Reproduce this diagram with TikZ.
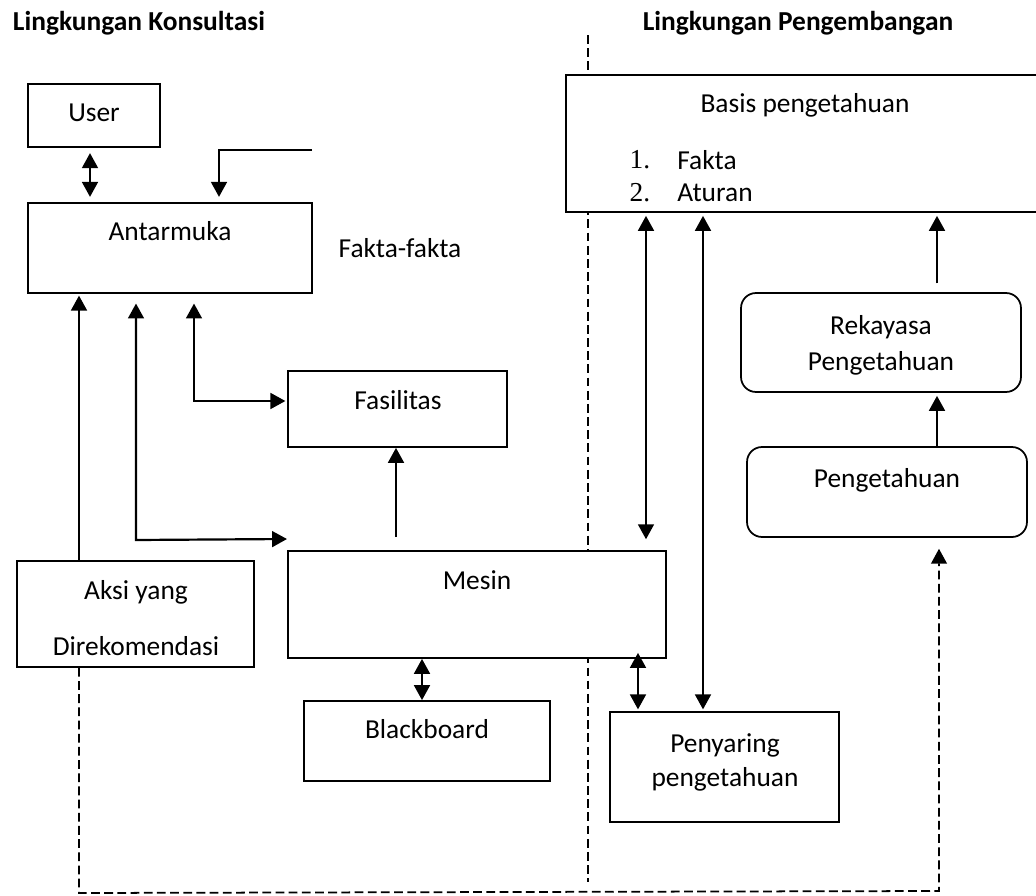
\documentclass[tikz,border=0pt]{standalone}
\usepackage{fontspec}
\setmainfont{Carlito}
\newfontfamily\numfont{Liberation Serif}
\usetikzlibrary{arrows.meta}

\begin{document}
\begin{tikzpicture}[
    x=0.02cm, y=-0.02cm,
    font=\fontsize{15.6}{19}\selectfont,
    box_style/.style={draw, line width=1pt, fill=white, inner sep=0pt},
    round_style/.style={box_style, rounded corners=0.3cm},
    txt_style/.style={inner sep=0pt},
    title_style/.style={txt_style, font=\fontsize{15.6}{19}\selectfont\bfseries},
    arrow_style/.style={line width=1.25pt, -{Triangle[length=8.5pt, width=9pt]}},
    dbl_style/.style={line width=1.25pt, {Triangle[length=8.5pt, width=9pt]}-{Triangle[length=8.5pt, width=9pt]}},
    dash_style/.style={line width=1pt, dash pattern=on 5pt off 2.5pt}
]
\clip (0,0) rectangle (1036,896);
% Garis pemisah
\coordinate (div_top) at (588,35);
\coordinate (div_bot) at (588,882);
\draw[dash_style] (div_top) -- (div_bot);
% Judul
\node[title_style] (kons_title) at (139,23) {Lingkungan Konsultasi};
\node[title_style] (peng_title) at (798,23) {Lingkungan Pengembangan};
% Lingkungan konsultasi
\node[box_style, minimum width=2.64cm, minimum height=1.26cm] (user) at (94,115.5) {};
\node[txt_style] (user_t) at (94,113) {User};
\node[box_style, minimum width=5.68cm, minimum height=1.80cm] (antar) at (170,248) {};
\node[txt_style] (antar_t) at (170,231) {Antarmuka};
\node[txt_style] (fakta_t) at (400,248) {Fakta-fakta};
\node[box_style, minimum width=4.38cm, minimum height=1.52cm] (fasil) at (397.5,409) {};
\node[txt_style] (fasil_t) at (398,400) {Fasilitas};
\node[box_style, minimum width=7.56cm, minimum height=2.14cm] (mesin) at (477,604.5) {};
\node[txt_style] (mesin_t) at (477,580) {Mesin};
\node[box_style, minimum width=4.74cm, minimum height=2.12cm] (aksi) at (135.5,614) {};
\node[txt_style] (aksi_t1) at (136,592) {Aksi yang};
\node[txt_style] (aksi_t2) at (136,646) {Direkomendasi};
\node[box_style, minimum width=4.92cm, minimum height=1.60cm] (black) at (427,741) {};
\node[txt_style] (black_t) at (427,729) {Blackboard};
% Lingkungan pengembangan
\node[box_style, minimum width=9.58cm, minimum height=2.74cm] (basis) at (805.5,143.5) {};
\node[txt_style] (basis_t) at (805,105) {Basis pengetahuan};
\node[txt_style] (num1) at (640,160) {\numfont 1.};
\node[txt_style, anchor=west] (item1) at (677,160) {Fakta};
\node[txt_style] (num2) at (640,193) {\numfont 2.};
\node[txt_style, anchor=west] (item2) at (677,193) {Aturan};
\node[round_style, minimum width=5.60cm, minimum height=1.98cm] (rek) at (881,342.5) {};
\node[txt_style] (rek_t1) at (881,327) {Rekayasa};
\node[txt_style] (rek_t2) at (881,363) {Pengetahuan};
\node[round_style, minimum width=5.60cm, minimum height=1.80cm] (peng) at (887,492) {};
\node[txt_style] (peng_t) at (887,480) {Pengetahuan};
\node[box_style, minimum width=4.58cm, minimum height=2.20cm] (saring) at (724.5,767) {};
\node[txt_style] (saring_t1) at (725,745) {Penyaring};
\node[txt_style] (saring_t2) at (725,779) {pengetahuan};
% Titik bantu
\coordinate (x_user) at (90,0);
\coordinate (fk_a) at (312,150);
\coordinate (fk_b) at (219,150);
\coordinate (x_aksi) at (79,0);
\coordinate (mk_a) at (136,540);
\coordinate (mk_b) at (287,539);
\coordinate (fs_a) at (194,401);
\coordinate (x_mf) at (396,0);
\coordinate (x_mb) at (422,0);
\coordinate (x_bm) at (646,0);
\coordinate (x_bs) at (703,0);
\coordinate (x_ms) at (638,0);
\coordinate (x_rek) at (937,0);
\coordinate (dl_a) at (79,893);
\coordinate (dl_b) at (939,891);
% Panah
\draw[dbl_style, shorten <=3pt, shorten >=3pt] (user.south -| x_user) -- (antar.north -| x_user);
\draw[arrow_style, shorten >=3pt] (fk_a) -- (fk_b) -- (antar.north -| fk_b);
\draw[arrow_style, shorten >=1pt] (aksi.north -| x_aksi) -- (antar.south -| x_aksi);
\draw[dbl_style, shorten <=5.5pt] (antar.south -| mk_a) -- (mk_a) -- (mk_b);
\draw[dbl_style, shorten <=5.5pt, shorten >=1pt] (antar.south -| fs_a) -- (fs_a) -- (fs_a -| fasil.west);
\draw[arrow_style, shorten <=7.4pt] (mesin.north -| x_mf) -- (fasil.south -| x_mf);
\draw[dbl_style] (mesin.south -| x_mb) -- (black.north -| x_mb);
\draw[dbl_style, shorten <=1.7pt, shorten >=6.2pt] (basis.south -| x_bm) -- (mesin.north -| x_bm);
\draw[dbl_style, shorten <=1.7pt, shorten >=1pt] (basis.south -| x_bs) -- (saring.north -| x_bs);
\draw[dbl_style, shorten <=-3.4pt, shorten >=1pt] (mesin.south -| x_ms) -- (saring.north -| x_ms);
\draw[arrow_style, shorten >=1.7pt] (peng.north -| x_rek) -- (rek.south -| x_rek);
\draw[arrow_style, shorten <=5pt, shorten >=1.7pt] (rek.north -| x_rek) -- (basis.south -| x_rek);
\draw[dash_style, -{Triangle[length=8.5pt, width=9pt]}, shorten >=6.2pt] (aksi.south -| dl_a) -- (dl_a) -- (dl_b) -- (peng.south -| dl_b);
\end{tikzpicture}
\end{document}
